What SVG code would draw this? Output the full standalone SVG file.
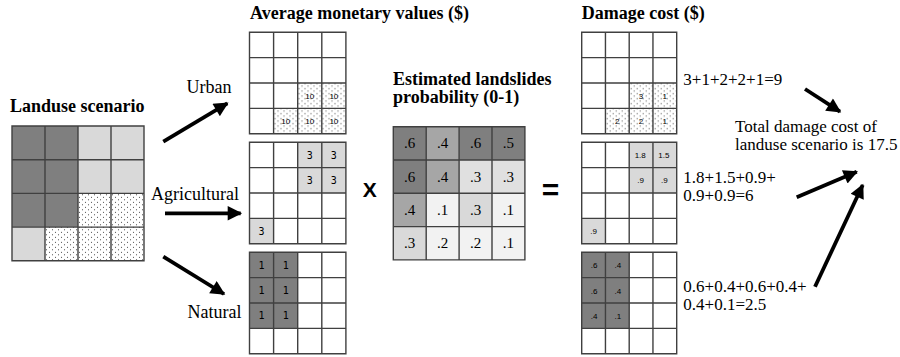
<svg xmlns="http://www.w3.org/2000/svg" width="900" height="357" viewBox="0 0 900 357">
<defs>
<pattern id="dots" patternUnits="userSpaceOnUse" width="6" height="5">
<rect width="6" height="5" fill="#ffffff"/>
<circle cx="1.5" cy="1.2" r="0.55" fill="#333"/>
<circle cx="4.5" cy="3.7" r="0.55" fill="#333"/>
</pattern>
<marker id="ah" viewBox="0 0 10 10" refX="9" refY="5" markerWidth="4.4" markerHeight="3.8" orient="auto" markerUnits="strokeWidth">
<path d="M0,0 L10,5 L0,10 Z" fill="#000"/>
</marker>
</defs>
<style>
.grid{fill:none;stroke:#404040;stroke-width:1.4}
.d{fill:#7f7f7f}.m{fill:#a6a6a6}.l{fill:#d9d9d9}.vl{fill:#f2f2f2}.dt{fill:url(#dots)}
.ti{font-family:'Liberation Serif','Times New Roman',Times,'DejaVu Serif',serif;font-weight:bold;font-size:18px;fill:#000}
.lb{font-family:'Liberation Serif','Times New Roman',Times,'DejaVu Serif',serif;font-size:17px;fill:#000}
.lb2{font-family:'Liberation Serif','Times New Roman',Times,'DejaVu Serif',serif;font-size:18px;fill:#000}
.ns{font-family:'Liberation Sans',Arial,sans-serif;font-size:8px;fill:#000;text-anchor:middle}
.nm{font-family:'DejaVu Sans Mono',monospace;font-size:10px;fill:#000;text-anchor:middle}
.np{font-family:'Liberation Serif','Times New Roman',Times,'DejaVu Serif',serif;font-size:15px;fill:#000;text-anchor:middle}
.op{font-family:'Liberation Sans',Arial,sans-serif;fill:#000;text-anchor:middle}
.arr{stroke:#000;stroke-width:3.8;fill:none;marker-end:url(#ah)}
</style>
<rect width="900" height="357" fill="#fff"/>

<g id="landuse">
<text class="ti" x="10" y="111.7">Landuse scenario</text>
<g transform="translate(12,126)">
<rect class="d" x="0" y="0" width="66" height="101.1"/>
<rect class="l" x="66" y="0" width="66" height="67.4"/>
<rect class="dt" x="66" y="67.4" width="66" height="67.4"/>
<rect class="l" x="0" y="101.1" width="33" height="33.7"/>
<rect class="dt" x="33" y="101.1" width="33" height="33.7"/>
<path class="grid" stroke-width="1.8" d="M0,0H132V134.8H0Z M33,0V134.8 M66,0V134.8 M99,0V134.8 M0,33.7H132 M0,67.4H132 M0,101.1H132"/>
</g>
</g>

<g id="urban">
<text class="ti" x="250" y="19">Average monetary values ($)</text>
<text class="lb2" x="186.5" y="93">Urban</text>
<g transform="translate(249.5,32.3)">
<rect class="dt" x="48.2" y="50.7" width="48.2" height="50.7"/>
<rect class="dt" x="24.1" y="76.05" width="24.1" height="25.35"/>
<path class="grid" d="M0,0H96.4V101.4H0Z M24.1,0V101.4 M48.2,0V101.4 M72.3,0V101.4 M0,25.35H96.4 M0,50.7H96.4 M0,76.05H96.4"/>
<text class="ns" x="60.25" y="66.4">10</text>
<text class="ns" x="84.35" y="66.4">10</text>
<text class="ns" x="36.15" y="91.7">10</text>
<text class="ns" x="60.25" y="91.7">10</text>
<text class="ns" x="84.35" y="91.7">10</text>
</g>
</g>

<g id="agricultural">
<text class="lb2" x="151" y="200">Agricultural</text>
<g transform="translate(249.5,142.3)">
<rect class="l" x="48.2" y="0" width="48.2" height="50.7"/>
<rect class="l" x="0" y="76.05" width="24.1" height="25.35"/>
<path class="grid" d="M0,0H96.4V101.4H0Z M24.1,0V101.4 M48.2,0V101.4 M72.3,0V101.4 M0,25.35H96.4 M0,50.7H96.4 M0,76.05H96.4"/>
<text class="nm" x="60.25" y="16.5">3</text>
<text class="nm" x="84.35" y="16.5">3</text>
<text class="nm" x="60.25" y="41.8">3</text>
<text class="nm" x="84.35" y="41.8">3</text>
<text class="nm" x="12.05" y="92.5">3</text>
</g>
</g>

<g id="natural">
<text class="lb2" x="187.5" y="318">Natural</text>
<g transform="translate(249.5,252.3)">
<rect class="d" x="0" y="0" width="48.2" height="76.05"/>
<path class="grid" d="M0,0H96.4V101.4H0Z M24.1,0V101.4 M48.2,0V101.4 M72.3,0V101.4 M0,25.35H96.4 M0,50.7H96.4 M0,76.05H96.4"/>
<text class="nm" x="12.05" y="16.5">1</text>
<text class="nm" x="36.15" y="16.5">1</text>
<text class="nm" x="12.05" y="41.8">1</text>
<text class="nm" x="36.15" y="41.8">1</text>
<text class="nm" x="12.05" y="67.2">1</text>
<text class="nm" x="36.15" y="67.2">1</text>
</g>
</g>

<g id="probability">
<text class="ti" x="393" y="85">Estimated landslides</text>
<text class="ti" x="393" y="103.3">probability (0-1)</text>
<g transform="translate(393.3,126.7)">
<rect class="d" x="0" y="0" width="32.9" height="66.6"/>
<rect class="m" x="32.9" y="0" width="32.9" height="66.6"/>
<rect class="d" x="65.8" y="0" width="65.8" height="33.3"/>
<rect fill="#e0e0e0" x="65.8" y="33.3" width="65.8" height="33.3"/>
<rect class="m" x="0" y="66.6" width="32.9" height="33.3"/>
<rect class="vl" x="32.9" y="66.6" width="32.9" height="33.3"/>
<rect class="l" x="65.8" y="66.6" width="32.9" height="33.3"/>
<rect class="vl" x="98.7" y="66.6" width="32.9" height="33.3"/>
<rect class="l" x="0" y="99.9" width="32.9" height="33.3"/>
<rect class="vl" x="32.9" y="99.9" width="98.7" height="33.3"/>
<path class="grid" stroke="#555" d="M0,0H131.6V133.2H0Z M32.9,0V133.2 M65.8,0V133.2 M98.7,0V133.2 M0,33.3H131.6 M0,66.6H131.6 M0,99.9H131.6"/>
<text class="np" x="16.45" y="21.8">.6</text>
<text class="np" x="49.35" y="21.8">.4</text>
<text class="np" x="82.25" y="21.8">.6</text>
<text class="np" x="115.15" y="21.8">.5</text>
<text class="np" x="16.45" y="55.1">.6</text>
<text class="np" x="49.35" y="55.1">.4</text>
<text class="np" x="82.25" y="55.1">.3</text>
<text class="np" x="115.15" y="55.1">.3</text>
<text class="np" x="16.45" y="88.4">.4</text>
<text class="np" x="49.35" y="88.4">.1</text>
<text class="np" x="82.25" y="88.4">.3</text>
<text class="np" x="115.15" y="88.4">.1</text>
<text class="np" x="16.45" y="121.7">.3</text>
<text class="np" x="49.35" y="121.7">.2</text>
<text class="np" x="82.25" y="121.7">.2</text>
<text class="np" x="115.15" y="121.7">.1</text>
</g>
</g>

<g id="operators">
<text class="op" x="369.7" y="196.7" font-size="21" font-weight="bold">X</text>
<text class="op" x="550.5" y="200" font-size="30" font-weight="bold">=</text>
</g>

<g id="damage-urban">
<text class="ti" x="581.7" y="19">Damage cost ($)</text>
<g transform="translate(581.7,32.3)">
<rect class="dt" x="47.5" y="50.7" width="47.5" height="50.7"/>
<rect class="dt" x="23.75" y="76.05" width="23.75" height="25.35"/>
<path class="grid" d="M0,0H95V101.4H0Z M23.75,0V101.4 M47.5,0V101.4 M71.25,0V101.4 M0,25.35H95 M0,50.7H95 M0,76.05H95"/>
<text class="ns" x="59.4" y="66.4">3</text>
<text class="ns" x="83.1" y="66.4">1</text>
<text class="ns" x="35.6" y="91.7">2</text>
<text class="ns" x="59.4" y="91.7">2</text>
<text class="ns" x="83.1" y="91.7">1</text>
</g>
</g>

<g id="damage-agricultural">
<g transform="translate(581.7,142.3)">
<rect class="l" x="47.5" y="0" width="47.5" height="50.7"/>
<rect class="l" x="0" y="76.05" width="23.75" height="25.35"/>
<path class="grid" d="M0,0H95V101.4H0Z M23.75,0V101.4 M47.5,0V101.4 M71.25,0V101.4 M0,25.35H95 M0,50.7H95 M0,76.05H95"/>
<text class="ns" x="58.5" y="15.8">1.8</text>
<text class="ns" x="82.2" y="15.8">1.5</text>
<text class="ns" x="59" y="41.1">.9</text>
<text class="ns" x="82.7" y="41.1">.9</text>
<text class="ns" x="11.9" y="91.7">.9</text>
</g>
</g>

<g id="damage-natural">
<g transform="translate(581.7,252.3)">
<rect class="d" x="0" y="0" width="47.5" height="76.05"/>
<path class="grid" d="M0,0H95V101.4H0Z M23.75,0V101.4 M47.5,0V101.4 M71.25,0V101.4 M0,25.35H95 M0,50.7H95 M0,76.05H95"/>
<text class="ns" x="12.5" y="16" font-size="9">.6</text>
<text class="ns" x="36.2" y="16" font-size="9">.4</text>
<text class="ns" x="12.5" y="41.3" font-size="9">.6</text>
<text class="ns" x="36.2" y="41.3" font-size="9">.4</text>
<text class="ns" x="12.5" y="66.7" font-size="9">.4</text>
<text class="ns" x="36.2" y="66.7" font-size="9">.1</text>
</g>
</g>

<g id="sums">
<text class="lb" x="683.3" y="85">3+1+2+2+1=9</text>
<text class="lb" x="683.3" y="182.7">1.8+1.5+0.9+</text>
<text class="lb" x="683.3" y="200.5">0.9+0.9=6</text>
<text class="lb" x="683.3" y="291.7">0.6+0.4+0.6+0.4+</text>
<text class="lb" x="683.3" y="310">0.4+0.1=2.5</text>
</g>

<g id="total">
<text class="lb" x="735" y="131.7">Total damage cost of</text>
<text class="lb" x="735" y="150">landuse scenario is 17.5</text>
</g>

<g id="connectors">
<line class="arr" x1="163.3" y1="141.7" x2="227.3" y2="103.3"/>
<line class="arr" x1="165" y1="213.3" x2="240.7" y2="213.3"/>
<line class="arr" x1="163.3" y1="256.7" x2="224" y2="294"/>
<line class="arr" x1="805" y1="89" x2="840" y2="111.7"/>
<line class="arr" x1="796.7" y1="197.3" x2="856.7" y2="171.7"/>
<line class="arr" x1="815" y1="286.7" x2="862.7" y2="185"/>
</g>
</svg>
